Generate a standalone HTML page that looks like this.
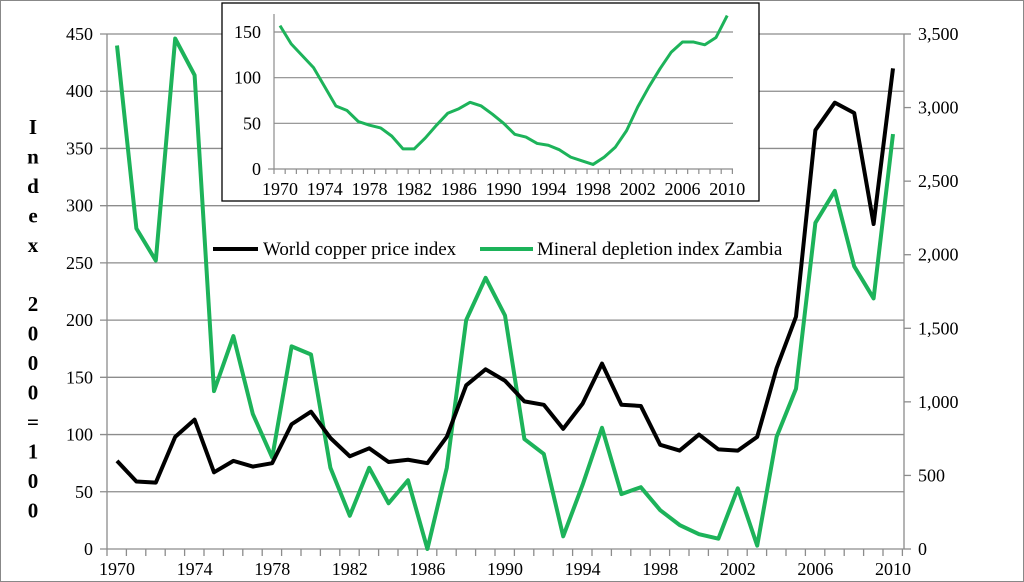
<!DOCTYPE html>
<html><head><meta charset="utf-8"><style>
html,body{margin:0;padding:0;background:#fff}
svg{display:block}
svg text{font-family:"Liberation Serif","DejaVu Serif","Times New Roman",serif}
</style></head><body>
<svg width="1024" height="582" viewBox="0 0 1024 582" font-family="Liberation Serif, DejaVu Serif, serif">
<rect x="0.5" y="0.5" width="1023" height="581" fill="#fff" stroke="#888"/>
<g id="main"></g>
<g id="inset"></g>
</svg>
<script>
const years = [];
for (let y = 1970; y <= 2010; y++) years.push(y);
const copperIndex = [77,59,58,98,113,67,77,72,75,109,120,97,81,88,76,78,75,98,143,157,147,129,126,105,127,162,126,125,91,86,100,87,86,98,158,203,366,390,381,284,420];
const depletionZambia = [3422,2178,1960,3469,3220,1073,1447,918,622,1377,1322,552,226,552,311,467,0,552,1556,1843,1587,747,646,86,436,824,373,420,264,163,101,70,412,23,762,1089,2217,2434,1921,1703,2820];
const insetValues = [157,137,124,111,90,69,64,52,48,45,36,22,22,34,48,61,66,73,69,60,50,38,35,28,26,21,13,9,5,13,24,42,68,90,110,128,139,139,136,144,168];
const leftTicks = [0,50,100,150,200,250,300,350,400,450];
const rightTicks = [0,500,1000,1500,2000,2500,3000,3500];
const rightTickLabels = ["0","500","1,000","1,500","2,000","2,500","3,000","3,500"];
const insetTicks = [0,50,100,150];
const xLabelYears = [1970,1974,1978,1982,1986,1990,1994,1998,2002,2006,2010];
const axisLetters = ["I","n","d","e","x","","2","0","0","0","=","1","0","0"];

const NS = "http://www.w3.org/2000/svg";
const FF = "Liberation Serif, DejaVu Serif, serif";
function mk(tag, attrs, parent, text) {
  const e = document.createElementNS(NS, tag);
  for (const k in attrs) e.setAttribute(k, attrs[k]);
  if (text !== undefined) { e.setAttribute("font-family", FF); e.textContent = text; }
  parent.appendChild(e);
  return e;
}
const main = document.getElementById("main");
const inset = document.getElementById("inset");

const X = yr => 117 + (yr - 1970) * 19.4;
const YL = v => 549 - v * (515 / 450);
const YR = v => 549 - v * (515 / 3500);

leftTicks.forEach(t => {
  const g = mk("line", {x1:100, x2:904, y1:YL(t), y2:YL(t), stroke: "#8c8c8c", "stroke-width": 1.3}, main);
  
  
  const tx = mk("text", {x:93, y:YL(t)+6, "text-anchor":"end", "font-size":18, fill:"#000"}, main, String(t));
  
  
});
rightTicks.forEach((t, i) => {
  const tk = mk("line", {x1:904, x2:911, y1:YR(t), y2:YR(t), stroke:"#8c8c8c", "stroke-width":1.3}, main);
  
  
  const tx = mk("text", {x:918, y:YR(t)+6, "font-size":18, fill:"#000"}, main, rightTickLabels[i]);
  
  
});
const la = mk("line", {x1:107, x2:107, y1:34, y2:549, stroke:"#8c8c8c", "stroke-width":1.3}, main);


const ra = mk("line", {x1:904, x2:904, y1:34, y2:549, stroke:"#8c8c8c", "stroke-width":1.3}, main);


for (let i = 0; i <= 41; i++) {
  const xx = 107 + i * 19.4;
  const m = mk("line", {x1:xx, x2:xx, y1:549, y2:556, stroke:"#8c8c8c", "stroke-width":1.3}, main);
  
  
}
xLabelYears.forEach(yr => {
  const tx = mk("text", {x:X(yr), y:575, "text-anchor":"middle", "font-size":18, fill:"#000"}, main, String(yr));
  
  
});
axisLetters.forEach((c, i) => {
  const tx = mk("text", {x:33, y:134 + i * 29.5, "text-anchor":"middle", "font-size":21, "font-weight":"bold", fill:"#000"}, main, c);
  
  
});

const gPts = depletionZambia.map((v, i) => X(years[i]) + "," + YR(v)).join(" ");
const gl = mk("polyline", {points:gPts, fill:"none", stroke:"#1db35a", "stroke-width":4, "stroke-linejoin":"round"}, main);


const bPts = copperIndex.map((v, i) => X(years[i]) + "," + YL(v)).join(" ");
const bl = mk("polyline", {points:bPts, fill:"none", stroke:"#000", "stroke-width":4, "stroke-linejoin":"round"}, main);



const l1 = mk("line", {x1:213, x2:258, y1:249, y2:249, stroke:"#000", "stroke-width":4}, main);


const t1 = mk("text", {x:263, y:255, "font-size":19, fill:"#000"}, main, "World copper price index");


const l2 = mk("line", {x1:480, x2:533, y1:249, y2:249, stroke:"#1db35a", "stroke-width":4}, main);


const t2 = mk("text", {x:537, y:255, "font-size":19, fill:"#000"}, main, "Mineral depletion index Zambia");



const bx = mk("rect", {x:222, y:3, width:537, height:198, fill:"#fff", stroke:"#000", "stroke-width":1.3}, inset);


const IX = yr => 280 + (yr - 1970) * 11.18;
const IY = v => 169 - v * (137 / 150);
insetTicks.forEach(t => {
  if (t > 0) {
    const g = mk("line", {x1:274, x2:733, y1:IY(t), y2:IY(t), stroke:"#8c8c8c", "stroke-width":1.2}, inset);
    
    
  }
  const tx = mk("text", {x:261, y:IY(t)+6, "text-anchor":"end", "font-size":18, fill:"#000"}, inset, String(t));
  
  
});
const iax = mk("line", {x1:274, x2:274, y1:14, y2:169, stroke:"#8c8c8c", "stroke-width":1.2}, inset);


const ixa = mk("line", {x1:268, x2:733, y1:169, y2:169, stroke:"#8c8c8c", "stroke-width":1.2}, inset);


for (let i = 0; i <= 41; i++) {
  const xx = 274 + i * 11.18;
  const m = mk("line", {x1:xx, x2:xx, y1:169, y2:174, stroke:"#8c8c8c", "stroke-width":1.2}, inset);
  
  
}
xLabelYears.forEach(yr => {
  const tx = mk("text", {x:IX(yr), y:195, "text-anchor":"middle", "font-size":18, fill:"#000"}, inset, String(yr));
  
  
});
const iPts = insetValues.map((v, i) => IX(years[i]) + "," + IY(v)).join(" ");
const il = mk("polyline", {points:iPts, fill:"none", stroke:"#1db35a", "stroke-width":3, "stroke-linejoin":"round"}, inset);


</script>
</body></html>
